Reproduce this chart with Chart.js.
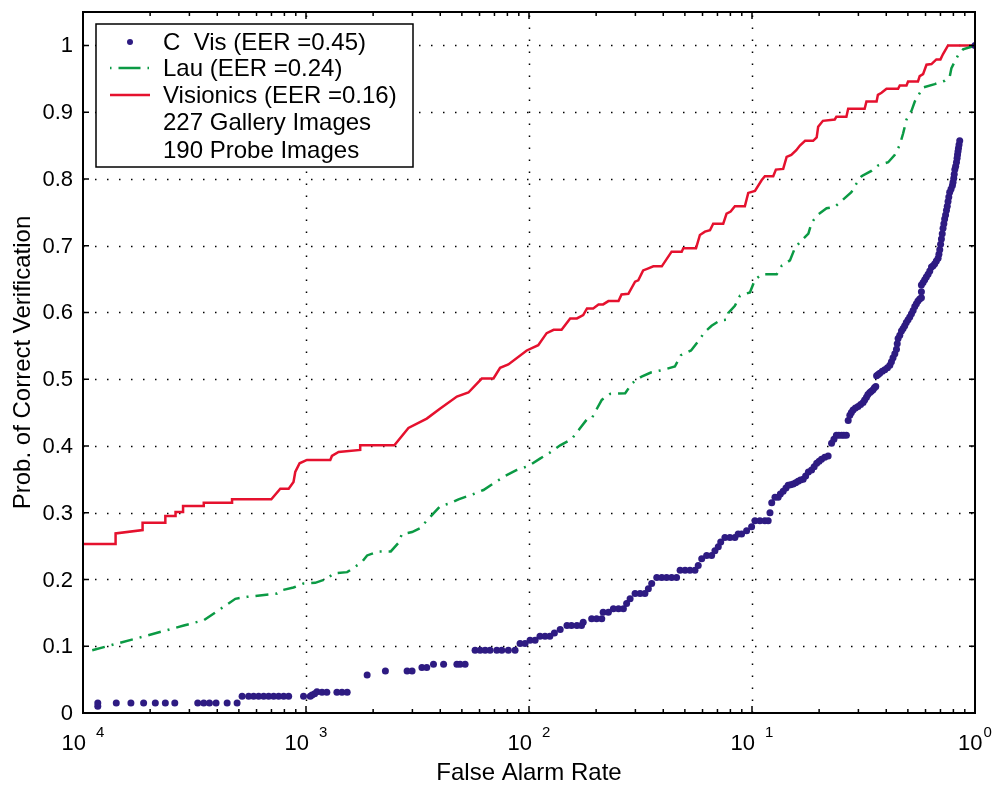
<!DOCTYPE html>
<html>
<head>
<meta charset="utf-8">
<script src="https://cdn.jsdelivr.net/npm/chart.js@4/dist/chart.umd.min.js"></script>
<style>
  body { margin: 0; background: #fff; }
  canvas { display: block; }
</style>
</head>
<body>
<canvas id="roc" width="995" height="788"></canvas>
<script>
// ROC curves: false alarm rate (log x) vs prob. of correct verification

const xExponents = [-4, -3, -2, -1, 0]
const yTickValues = [0, 0.1, 0.2, 0.3, 0.4, 0.5, 0.6, 0.7, 0.8, 0.9, 1]

const legendRows = ['C  Vis (EER =0.45)', 'Lau (EER =0.24)', 'Visionics (EER =0.16)',
                    '227 Gallery Images', '190 Probe Images']

// C Vis - dots
const cVisPoints = [
  [1.165e-4,.010],[1.165e-4,.015],[1.41e-4,.015],[1.64e-4,.015],[1.87e-4,.015],[2.11e-4,.015],
  [2.34e-4,.015],[2.58e-4,.015],[3.27e-4,.015],[3.48e-4,.015],[3.69e-4,.015],[3.95e-4,.015],
  [4.43e-4,.015],[4.91e-4,.015],
  [5.17e-4,.025],[5.53e-4,.025],[5.82e-4,.025],[6.13e-4,.025],[6.46e-4,.025],[6.80e-4,.025],
  [7.16e-4,.025],[7.54e-4,.025],[7.94e-4,.025],[8.36e-4,.025],[9.75e-4,.025],[1.045e-3,.025],
  [1.064e-3,.027],[1.093e-3,.029],[1.12e-3,.032],[1.18e-3,.031],[1.24e-3,.031],[1.376e-3,.031],
  [1.45e-3,.031],[1.53e-3,.031],[1.88e-3,.057],[2.27e-3,.063],[2.84e-3,.063],[2.99e-3,.063],
  [3.31e-3,.068],[3.48e-3,.068],[3.73e-3,.073],[4.14e-3,.073],[4.75e-3,.073],[4.91e-3,.073],
  [5.17e-3,.073],
  [5.73e-3,.094],[6.04e-3,.094],[6.36e-3,.094],[6.69e-3,.094],[7.17e-3,.094],[7.55e-3,.094],
  [8.08e-3,.094],[8.66e-3,.094],[9.12e-3,.104],[9.60e-3,.104],[1.011e-2,.109],[1.065e-2,.109],
  [1.12e-2,.115],[1.18e-2,.115],[1.24e-2,.115],[1.30e-2,.120],[1.38e-2,.125],
  [1.48e-2,.131],[1.55e-2,.131],[1.64e-2,.131],[1.72e-2,.131],[1.75e-2,.136],
  [1.91e-2,.141],[2.01e-2,.141],[2.12e-2,.141],[2.15e-2,.151],[2.27e-2,.151],
  [2.39e-2,.156],[2.52e-2,.156],[2.65e-2,.156],[2.74e-2,.164],[2.84e-2,.171],
  [2.99e-2,.179],[3.15e-2,.179],[3.31e-2,.179],[3.43e-2,.186],[3.55e-2,.194],
  [3.74e-2,.203],[3.94e-2,.203],[4.14e-2,.203],[4.36e-2,.203],[4.59e-2,.203],
  [4.76e-2,.214],[5.01e-2,.214],[5.27e-2,.214],[5.55e-2,.214],[5.74e-2,.221],[5.95e-2,.231],
  [6.26e-2,.236],[6.59e-2,.236],[6.82e-2,.243],[7.06e-2,.249],[7.24e-2,.256],
  [7.56e-2,.263],[7.96e-2,.263],[8.38e-2,.263],[8.67e-2,.268],[8.98e-2,.268],[9.46e-2,.273],
  [9.96e-2,.279],[0.1031,.288],[0.1085,.288],[0.1142,.288],[0.1182,.288],[0.1204,.300],
  [0.1226,.315],[0.1268,.323],
  [0.131,.323],[0.134,.328],[0.138,.332],[0.142,.337],[0.1453,.341],[0.149,.342],[0.153,.343],
  [0.157,.345],[0.161,.347],[0.165,.349],[0.1696,.350],[0.174,.355],[0.179,.361],[0.185,.364],
  [0.190,.369],[0.195,.374],[0.200,.377],[0.205,.380],[0.212,.383],[0.2195,.385],[0.2274,.404],
  [0.233,.410],[0.239,.416],[0.245,.416],[0.252,.416],[0.258,.416],[0.265,.416],[0.270,.438],
  [0.2746,.446],[0.279,.450],[0.284,.454],[0.291,.457],[0.299,.459],[0.307,.462],[0.315,.465],
  [0.320,.469],[0.326,.473],[0.331,.477],[0.3375,.480],[0.343,.482],[0.349,.484],[0.354,.487],
  [0.359,.489],[0.362,.505],[0.368,.507],[0.374,.509],[0.384,.512],[0.394,.514],[0.405,.517],
  [0.415,.521],[0.422,.526],[0.429,.532],[0.437,.538],[0.4445,.545],[0.448,.553],[0.452,.561],
  [0.460,.566],[0.468,.572],[0.476,.576],[0.484,.580],[0.492,.585],[0.501,.589],[0.510,.593],
  [0.519,.598],[0.528,.603],[0.537,.609],[0.546,.613],[0.555,.617],[0.565,.620],[0.575,.622],
  [0.575,.631],[0.575,.641],[0.585,.645],[0.595,.649],[0.605,.653],[0.616,.657],[0.627,.662],
  [0.638,.668],[0.649,.670],[0.660,.673],[0.671,.677],[0.683,.681],[0.689,.687],[0.695,.694],
  [0.701,.702],[0.707,.710],[0.713,.718],[0.719,.726],[0.725,.733],[0.731,.740],[0.738,.746],
  [0.745,.753],[0.751,.759],[0.757,.766],[0.763,.773],[0.770,.780],[0.781,.785],[0.792,.790],
  [0.797,.795],[0.803,.801],[0.807,.807],[0.812,.814],[0.819,.819],[0.826,.825],[0.831,.831],
  [0.835,.836],[0.839,.841],[0.843,.846],[0.848,.851],[0.854,.857],
  [1,1]
]

// Lau - dash dot
const lauPoints = [
  [1.10e-4,.094],[1.94e-4,.116],[2.83e-4,.131],[3.48e-4,.139],[4.27e-4,.159],[4.82e-4,.171],
  [5.44e-4,.174],[7.42e-4,.179],[7.81e-4,.184],[8.79e-4,.188],[9.75e-4,.194],[1.10e-3,.195],
  [1.24e-3,.201],[1.33e-3,.209],[1.53e-3,.211],[1.78e-3,.226],[1.88e-3,.236],[2.11e-3,.242],
  [2.40e-3,.242],[2.60e-3,.255],[2.69e-3,.268],[2.99e-3,.271],[3.25e-3,.277],[3.48e-3,.288],
  [3.73e-3,.299],[4.00e-3,.310],[4.43e-3,.314],[4.83e-3,.320],[5.64e-3,.328],[6.25e-3,.334],
  [6.93e-3,.344],[7.82e-3,.355],[8.82e-3,.364],[9.94e-3,.370],[1.12e-2,.381],[1.24e-2,.390],
  [1.38e-2,.401],[1.55e-2,.410],[1.69e-2,.426],[1.82e-2,.440],[1.91e-2,.441],[2.01e-2,.455],
  [2.12e-2,.469],[2.31e-2,.478],[2.70e-2,.479],[2.90e-2,.494],[3.20e-2,.504],[3.52e-2,.510],
  [4.00e-2,.514],[4.51e-2,.519],[4.80e-2,.536],[5.33e-2,.543],[5.74e-2,.557],[6.15e-2,.571],
  [6.59e-2,.580],[7.18e-2,.588],[7.69e-2,.589],[7.82e-2,.599],[8.38e-2,.610],[8.83e-2,.625],
  [9.79e-2,.630],[0.1031,.649],[0.1104,.657],[0.129,.657],[0.136,.670],[0.148,.678],
  [0.156,.697],[0.167,.708],[0.179,.718],[0.185,.734],[0.195,.745],[0.216,.756],[0.235,.758],
  [0.256,.769],[0.279,.780],[0.294,.793],[0.310,.804],[0.343,.812],[0.367,.820],[0.408,.825],
  [0.437,.836],[0.460,.851],[0.476,.868],[0.493,.889],[0.519,.902],[0.537,.916],[0.585,.937],
  [0.660,.942],[0.731,.947],[0.770,.953],[0.784,.966],[0.839,.985],[0.884,.994],[0.964,.998],
  [1,1]
]

// Visionics - solid
const visionicsPoints = [
  [1e-4,.253],[1.40e-4,.253],[1.40e-4,.269],[1.85e-4,.274],[1.85e-4,.285],[2.34e-4,.285],
  [2.34e-4,.295],[2.60e-4,.295],[2.60e-4,.301],[2.81e-4,.301],[2.81e-4,.310],[3.48e-4,.310],
  [3.48e-4,.315],[4.66e-4,.315],[4.66e-4,.320],[6.99e-4,.320],[7.67e-4,.336],[8.36e-4,.336],
  [8.79e-4,.346],[8.95e-4,.361],[9.36e-4,.374],[1.01e-3,.379],[1.285e-3,.379],[1.307e-3,.385],
  [1.40e-3,.391],[1.75e-3,.394],[1.75e-3,.401],[2.49e-3,.401],[2.88e-3,.427],[3.48e-3,.441],
  [4.00e-3,.456],[4.75e-3,.474],[5.35e-3,.480],[6.14e-3,.501],[6.93e-3,.501],[7.42e-3,.517],
  [8.08e-3,.522],[9.77e-3,.543],[1.10e-2,.551],[1.20e-2,.569],[1.29e-2,.574],[1.40e-2,.574],
  [1.53e-2,.591],[1.64e-2,.591],[1.75e-2,.596],[1.82e-2,.606],[1.94e-2,.606],[2.05e-2,.612],
  [2.15e-2,.612],[2.27e-2,.617],[2.52e-2,.617],[2.60e-2,.627],[2.79e-2,.628],[2.99e-2,.646],
  [3.09e-2,.648],[3.25e-2,.663],[3.43e-2,.666],[3.61e-2,.669],[3.94e-2,.669],[4.36e-2,.691],
  [4.84e-2,.691],[4.92e-2,.696],[5.61e-2,.696],[5.84e-2,.716],[6.15e-2,.721],[6.48e-2,.723],
  [6.70e-2,.733],[7.43e-2,.733],[7.69e-2,.748],[8.02e-2,.751],[8.38e-2,.759],[9.29e-2,.759],
  [9.62e-2,.779],[0.1031,.782],[0.1104,.798],[0.1142,.804],[0.1245,.804],[0.128,.814],
  [0.138,.815],[0.143,.833],[0.150,.836],[0.158,.843],[0.164,.850],[0.173,.857],[0.188,.857],
  [0.195,.862],[0.198,.878],[0.208,.887],[0.235,.889],[0.239,.893],[0.265,.893],[0.270,.905],
  [0.320,.905],[0.326,.916],[0.362,.916],[0.367,.926],[0.381,.929],[0.401,.935],[0.452,.935],
  [0.460,.940],[0.493,.940],[0.501,.946],[0.555,.946],[0.565,.954],[0.585,.957],[0.606,.971],
  [0.638,.972],[0.671,.979],[0.700,.979],[0.719,.987],[0.757,1.0],[1,1]
]

const BLUE = '#2e1b82'
const GREEN = '#0b9a44'
const RED = '#e5112e'
const FONT = '"Liberation Sans", Arial, Helvetica, sans-serif'
const LAU_DASH = [13, 7, 2, 7]

function toXY(list) {
  return list.map(p => ({x: p[0], y: p[1]}))
}

// grid, inward ticks, box, tick labels, axis titles, legend -- matlab look
const matlabAxes = {
  id: 'matlabAxes',
  beforeDatasetsDraw(chart) {
    const {ctx, chartArea: a, scales: {x, y}} = chart
    ctx.save()
    ctx.strokeStyle = '#000'
    ctx.lineWidth = 1.5
    ctx.setLineDash([1.5, 10.5])
    for (const e of xExponents) {
      const px = Math.round(x.getPixelForValue(Math.pow(10, e))) + 0.5
      if (px <= a.left + 2 || px >= a.right - 2) continue
      ctx.beginPath(); ctx.moveTo(px, a.bottom); ctx.lineTo(px, a.top); ctx.stroke()
    }
    for (const v of yTickValues) {
      if (v === 0) continue
      const py = Math.round(y.getPixelForValue(v)) + 0.5
      ctx.beginPath(); ctx.moveTo(a.left, py); ctx.lineTo(a.right, py); ctx.stroke()
    }
    ctx.restore()
  },
  afterDatasetsDraw(chart) {
    const {ctx, chartArea: a, scales: {x, y}} = chart
    ctx.save()
    ctx.strokeStyle = '#000'
    ctx.lineWidth = 1.5
    ctx.setLineDash([])

    // x ticks (major + minor), bottom and top
    for (let e = -4; e <= 0; e++) {
      for (let k = 1; k <= 9; k++) {
        const v = k * Math.pow(10, e)
        if (v > 1) break
        const px = x.getPixelForValue(v)
        const len = k === 1 ? 7 : 4
        ctx.beginPath()
        ctx.moveTo(px, a.bottom); ctx.lineTo(px, a.bottom - len)
        ctx.moveTo(px, a.top); ctx.lineTo(px, a.top + len)
        ctx.stroke()
      }
    }
    // y ticks, left and right
    for (const v of yTickValues) {
      const py = y.getPixelForValue(v)
      ctx.beginPath()
      ctx.moveTo(a.left, py); ctx.lineTo(a.left + 6, py)
      ctx.moveTo(a.right, py); ctx.lineTo(a.right - 6, py)
      ctx.stroke()
    }
    ctx.lineWidth = 2
    ctx.strokeRect(a.left, a.top, a.right - a.left, a.bottom - a.top)

    // tick labels
    ctx.fillStyle = '#000'
    ctx.font = '22px ' + FONT
    ctx.textAlign = 'right'
    ctx.textBaseline = 'middle'
    for (const v of yTickValues) {
      ctx.fillText(String(Math.round(v * 10) / 10), a.left - 10, y.getPixelForValue(v) + 1)
    }
    ctx.textAlign = 'left'
    ctx.textBaseline = 'alphabetic'
    for (const e of xExponents) {
      const px = x.getPixelForValue(Math.pow(10, e))
      ctx.font = '22px ' + FONT
      const wBase = ctx.measureText('10').width
      const gap = e < 0 ? 10 : 1
      ctx.font = '15px ' + FONT
      const sup = String(Math.abs(e))
      const wSup = ctx.measureText(sup).width
      const x0 = px - (wBase + gap + wSup) / 2
      ctx.font = '22px ' + FONT
      ctx.fillText('10', x0, 750)
      ctx.font = '15px ' + FONT
      ctx.fillText(sup, x0 + wBase + gap, 737)
    }

    // axis titles
    ctx.font = '24px ' + FONT
    ctx.textAlign = 'center'
    ctx.fillText('False Alarm Rate', (a.left + a.right) / 2, 780)
    ctx.save()
    ctx.translate(30, (a.top + a.bottom) / 2)
    ctx.rotate(-Math.PI / 2)
    ctx.fillText('Prob. of Correct Verification', 0, 0)
    ctx.restore()

    // legend box
    const lx = 96, ly = 24, lw = 317, lh = 143
    ctx.fillStyle = '#fff'
    ctx.fillRect(lx, ly, lw, lh)
    ctx.lineWidth = 1.5
    ctx.strokeStyle = '#000'
    ctx.strokeRect(lx, ly, lw, lh)
    const rowY = [42, 68, 95, 122, 150]
    ctx.fillStyle = '#000'
    ctx.font = '24px ' + FONT
    ctx.textAlign = 'left'
    ctx.textBaseline = 'middle'
    legendRows.forEach((t, i) => ctx.fillText(t, 163, rowY[i] + 1))
    // symbols
    ctx.fillStyle = BLUE
    ctx.beginPath(); ctx.arc(130, rowY[0], 3, 0, Math.PI * 2); ctx.fill()
    ctx.strokeStyle = GREEN
    ctx.lineWidth = 2.5
    ctx.setLineDash([1.5, 7, 22, 7])
    ctx.beginPath(); ctx.moveTo(110, rowY[1]); ctx.lineTo(150, rowY[1]); ctx.stroke()
    ctx.setLineDash([])
    ctx.strokeStyle = RED
    ctx.beginPath(); ctx.moveTo(110, rowY[2]); ctx.lineTo(150, rowY[2]); ctx.stroke()
    ctx.restore()
  }
}

const config = {
  type: 'scatter',
  data: {
    datasets: [
      {
        label: legendRows[0],
        data: toXY(cVisPoints),
        showLine: false,
        pointRadius: 3.5,
        pointBackgroundColor: BLUE,
        pointBorderWidth: 0
      },
      {
        label: legendRows[1],
        data: toXY(lauPoints),
        showLine: true,
        borderColor: GREEN,
        borderWidth: 2.5,
        borderDash: LAU_DASH,
        pointRadius: 0,
        tension: 0
      },
      {
        label: legendRows[2],
        data: toXY(visionicsPoints),
        showLine: true,
        borderColor: RED,
        borderWidth: 2.5,
        pointRadius: 0,
        tension: 0
      }
    ]
  },
  options: {
    responsive: false,
    animation: false,
    layout: { padding: { top: 12, right: 20, left: 0, bottom: 0 } },
    plugins: {
      legend: { display: false },
      tooltip: { enabled: false }
    },
    scales: {
      x: {
        type: 'logarithmic',
        min: 1e-4,
        max: 1,
        grid: { display: false },
        border: { display: false },
        ticks: { display: false },
        afterFit: s => { s.height = 75 }
      },
      y: {
        type: 'linear',
        min: 0,
        max: 1.05,
        grid: { display: false },
        border: { display: false },
        ticks: { display: false },
        afterFit: s => { s.width = 83 }
      }
    }
  },
  plugins: [matlabAxes]
}

new Chart(document.getElementById('roc'), config)
</script>
</body>
</html>
